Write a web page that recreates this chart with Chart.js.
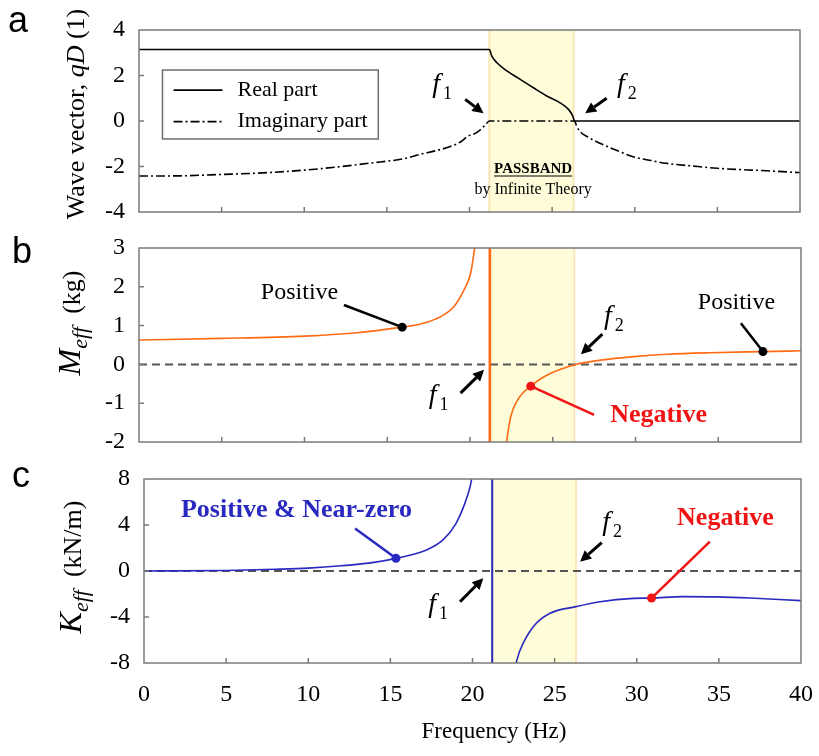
<!DOCTYPE html>
<html>
<head>
<meta charset="utf-8">
<script src="https://cdn.jsdelivr.net/npm/chart.js@4"></script>
<style>
  body { margin: 0; background: #fff; }
  #wrap { position: relative; width: 819px; height: 756px; }
  canvas { position: absolute; left: 0; }
</style>
</head>
<body>
<div id="wrap">
  <canvas id="panelA" width="819" height="225" style="top:0"></canvas>
  <canvas id="panelB" width="819" height="230" style="top:225px"></canvas>
  <canvas id="panelC" width="819" height="301" style="top:455px"></canvas>
</div>
<script>
// ---- data ----
const passband = [21.2, 26.3];
const xTicks = [0, 5, 10, 15, 20, 25, 30, 35, 40];

// (a) wave vector qD
const realFreq = [0, 21.2, 21.35, 21.66, 22.26, 23.07, 23.87, 24.68, 25.48, 25.99, 26.25, 26.35, 40];
const realPart = [3.14, 3.14, 2.85, 2.56, 2.2, 1.83, 1.46, 1.1, 0.8, 0.51, 0.22, 0, 0];
const imagFreq = [0, 2.5, 5, 7.5, 10, 12, 14, 16, 17, 18, 18.8, 19.5, 19.85, 20.45, 20.95, 21.2,
                  26.35, 26.5, 26.7, 27.2, 27.9, 29, 29.9, 31, 31.9, 33.5, 35, 38, 40];
const imagPart = [-2.42, -2.41, -2.35, -2.28, -2.16, -2.02, -1.85, -1.66, -1.47, -1.3, -1.13, -0.9, -0.69, -0.5, -0.18, 0,
                  0, -0.25, -0.47, -0.72, -0.98, -1.32, -1.57, -1.74, -1.86, -1.98, -2.08, -2.19, -2.27];

// (b) effective mass
const massFreqL = [0, 5, 10, 13, 15.9, 17.02, 18.23, 19.03, 19.64, 20.04, 20.28, 20.45];
const massL = [0.63, 0.67, 0.73, 0.81, 0.96, 1.04, 1.23, 1.49, 1.92, 2.35, 2.99, 3.5];
const massFreqR = [22.1, 22.46, 22.87, 23.67, 24.88, 26.4, 27.9, 29.9, 31.9, 34.5, 37.7, 40];
const massR = [-2.3, -1.35, -0.92, -0.56, -0.23, 0, 0.11, 0.2, 0.26, 0.3, 0.33, 0.35];
const massPole = 21.2;
const massPosFreq = [15.9, 37.7];
const massPosVal = [0.96, 0.33];
const massNegFreq = [23.67];
const massNegVal = [-0.56];

// (c) effective stiffness
const stiffFreqL = [0, 5, 8, 10, 12, 14, 15.34, 17.2, 18.2, 19.0, 19.54, 19.85, 19.95, 20.05];
const stiffL = [0, 0.05, 0.15, 0.25, 0.45, 0.75, 1.1, 1.83, 2.7, 4.15, 5.9, 7.3, 8, 8.8];
const stiffFreqR = [22.55, 22.9, 23.7, 24.72, 26.3, 27.76, 29.8, 30.9, 32.8, 34.9, 36.9, 40];
const stiffR = [-8.5, -6.87, -4.84, -3.68, -3.1, -2.67, -2.38, -2.35, -2.23, -2.25, -2.35, -2.58];
const stiffPole = 21.2;
const stiffPosFreq = [15.34];
const stiffPosVal = [1.1];
const stiffNegFreq = [30.9];
const stiffNegVal = [-2.35];

const ORANGE = '#FF6A14';
const BLUE = '#2A2AC0';
const RED = '#F01414';
const SERIF = '"Liberation Serif", "Times New Roman", serif';

const pts = (xs, ys) => xs.map((x, i) => ({ x: x, y: ys[i] }));

function curve(data, color, width, dash) {
  return {
    data: data, borderColor: color, borderWidth: width, borderDash: dash || [],
    pointRadius: 0, fill: false, cubicInterpolationMode: 'monotone'
  };
}
function dots(data, color) {
  return { data: data, showLine: false, pointRadius: 4.5, pointBackgroundColor: color, pointBorderWidth: 0 };
}

// ---- drawing helpers ----
function arrow(ctx, x1, y1, x2, y2) {
  const ang = Math.atan2(y2 - y1, x2 - x1), L = 11, W = 5.5;
  const bx = x2 - L * Math.cos(ang), by = y2 - L * Math.sin(ang);
  ctx.lineWidth = 3;
  ctx.beginPath(); ctx.moveTo(x1, y1); ctx.lineTo(bx, by); ctx.stroke();
  ctx.beginPath();
  ctx.moveTo(x2, y2);
  ctx.lineTo(bx - W * Math.sin(ang), by + W * Math.cos(ang));
  ctx.lineTo(bx + W * Math.sin(ang), by - W * Math.cos(ang));
  ctx.closePath(); ctx.fill();
}

function richTitle(ctx, parts, cx, cy) {
  ctx.save();
  ctx.translate(cx, cy);
  ctx.rotate(-Math.PI / 2);
  ctx.textBaseline = 'alphabetic';
  ctx.textAlign = 'left';
  ctx.fillStyle = '#000';
  let total = 0;
  parts.forEach(p => { ctx.font = p.font; p.w = ctx.measureText(p.t).width; total += p.w; });
  let x = -total / 2;
  parts.forEach(p => { ctx.font = p.font; ctx.fillText(p.t, x, p.dy || 0); x += p.w; });
  ctx.restore();
}

function panelPlugin(cfg) {
  return {
    id: 'panel_' + cfg.letter,
    beforeDatasetsDraw(chart) {
      const { ctx, chartArea: a, scales: { x } } = chart;
      const x1 = x.getPixelForValue(passband[0]), x2 = x.getPixelForValue(passband[1]);
      ctx.save();
      ctx.fillStyle = '#FFFDD9';
      ctx.fillRect(x1, a.top, x2 - x1, a.bottom - a.top);
      ctx.strokeStyle = '#F8E6B8';
      ctx.lineWidth = 2;
      ctx.beginPath();
      ctx.moveTo(x1, a.top); ctx.lineTo(x1, a.bottom);
      ctx.moveTo(x2, a.top); ctx.lineTo(x2, a.bottom);
      ctx.stroke();
      ctx.restore();
    },
    afterDatasetsDraw(chart) {
      const { ctx, chartArea: a, scales: { x, y } } = chart;
      const px = v => x.getPixelForValue(v), py = v => y.getPixelForValue(v);
      ctx.save();
      // frame and inward ticks
      ctx.strokeStyle = '#7A7A7A';
      ctx.lineWidth = 1.5;
      ctx.strokeRect(a.left, a.top, a.right - a.left, a.bottom - a.top);
      ctx.beginPath();
      xTicks.slice(1, -1).forEach(v => { ctx.moveTo(px(v), a.bottom); ctx.lineTo(px(v), a.bottom - 5); });
      y.ticks.slice(1, -1).forEach(t => { ctx.moveTo(a.left, py(t.value)); ctx.lineTo(a.left + 5, py(t.value)); });
      ctx.stroke();

      // annotations
      ctx.textBaseline = 'alphabetic';
      cfg.notes.forEach(n => {
        ctx.fillStyle = n.color || '#000';
        ctx.strokeStyle = n.color || '#000';
        if (n.type === 'text') {
          ctx.font = n.font;
          ctx.textAlign = 'center';
          ctx.textBaseline = 'middle';
          ctx.fillText(n.text, px(n.x), py(n.y));
          if (n.underline) {
            const w = ctx.measureText(n.text).width;
            ctx.lineWidth = 1.2;
            ctx.beginPath();
            ctx.moveTo(px(n.x) - w / 2, py(n.y) + 7);
            ctx.lineTo(px(n.x) + w / 2, py(n.y) + 7);
            ctx.stroke();
          }
          ctx.textBaseline = 'alphabetic';
        } else if (n.type === 'f') {
          ctx.textAlign = 'left';
          ctx.font = 'italic 28px ' + SERIF;
          ctx.fillText('f', px(n.x), py(n.y));
          const w = ctx.measureText('f').width;
          ctx.font = '18px ' + SERIF;
          ctx.fillText(n.sub, px(n.x) + w + 3, py(n.y) + 7);
        } else if (n.type === 'arrow') {
          arrow(ctx, px(n.from[0]), py(n.from[1]), px(n.to[0]), py(n.to[1]));
        } else if (n.type === 'line') {
          ctx.lineWidth = n.width || 2.5;
          ctx.beginPath();
          ctx.moveTo(px(n.from[0]), py(n.from[1]));
          ctx.lineTo(px(n.to[0]), py(n.to[1]));
          ctx.stroke();
        } else if (n.type === 'legend') {
          const l = px(n.box[0]), t = py(n.box[1]), r = px(n.box[2]), b = py(n.box[3]);
          ctx.fillStyle = '#fff';
          ctx.fillRect(l, t, r - l, b - t);
          ctx.strokeStyle = '#6E6E6E';
          ctx.lineWidth = 1.5;
          ctx.strokeRect(l, t, r - l, b - t);
          ctx.strokeStyle = '#000';
          ctx.fillStyle = '#000';
          ctx.font = '22px ' + SERIF;
          ctx.textAlign = 'left';
          ctx.textBaseline = 'middle';
          n.items.forEach(it => {
            ctx.lineWidth = 1.8;
            ctx.setLineDash(it.dash);
            ctx.beginPath();
            ctx.moveTo(px(n.sample[0]), py(it.y));
            ctx.lineTo(px(n.sample[1]), py(it.y));
            ctx.stroke();
            ctx.setLineDash([]);
            ctx.fillText(it.label, px(n.textX), py(it.y));
          });
          ctx.textBaseline = 'alphabetic';
        }
      });

      // panel letter, y-axis title, optional x-axis title
      ctx.fillStyle = '#000';
      ctx.textAlign = 'left';
      ctx.font = '36px "Liberation Sans", Arial, sans-serif';
      ctx.fillText(cfg.letter, cfg.letterPos[0], cfg.letterPos[1]);
      richTitle(ctx, cfg.title, cfg.titlePos[0], cfg.titlePos[1]);
      if (cfg.xTitle) {
        ctx.font = '23px ' + SERIF;
        ctx.textAlign = 'center';
        ctx.textBaseline = 'middle';
        ctx.fillText(cfg.xTitle.text, cfg.xTitle.pos[0], cfg.xTitle.pos[1]);
      }
      ctx.restore();
    }
  };
}

function makeChart(id, cfg) {
  const tickFont = { family: SERIF, size: 24 };
  const xScale = { type: 'linear', min: 0, max: 40, display: false };
  if (cfg.showX) {
    Object.assign(xScale, {
      display: true,
      ticks: { stepSize: 5, font: tickFont, color: '#000', padding: 17, maxRotation: 0 },
      grid: { display: false, drawTicks: false },
      border: { display: false },
      afterFit: s => { s.height = cfg.xHeight; s.paddingLeft = 0; s.paddingRight = 0; }
    });
  }
  return new Chart(document.getElementById(id), {
    type: 'line',
    data: { datasets: cfg.datasets },
    options: {
      responsive: false,
      animation: false,
      events: [],
      devicePixelRatio: 1,
      layout: { padding: cfg.padding },
      plugins: { legend: { display: false }, tooltip: { enabled: false } },
      scales: {
        x: xScale,
        y: {
          type: 'linear', min: cfg.yMin, max: cfg.yMax,
          ticks: { stepSize: cfg.yStep, font: tickFont, color: '#000', padding: 14 },
          grid: { display: false, drawTicks: false },
          border: { display: false },
          afterFit: s => { s.width = cfg.axisWidth; s.paddingTop = 0; s.paddingBottom = 0; }
        }
      }
    },
    plugins: [panelPlugin(cfg)]
  });
}

const zeroLine = () => curve([{ x: 0, y: 0 }, { x: 40, y: 0 }], '#555', 2, [8, 5]);

// ---- panel a ----
makeChart('panelA', {
  letter: 'a', letterPos: [8, 32], titlePos: [84, 114],
  title: [
    { t: 'Wave vector, ', font: '26px ' + SERIF },
    { t: 'qD', font: 'italic 26px ' + SERIF },
    { t: ' (1)', font: '26px ' + SERIF }
  ],
  padding: { top: 30, bottom: 13, left: 0, right: 19 }, axisWidth: 139,
  yMin: -4, yMax: 4, yStep: 2,
  datasets: [
    curve(pts(realFreq, realPart), '#000', 1.6),
    curve(pts(imagFreq, imagPart), '#000', 1.6, [9, 3, 2, 3])
  ],
  notes: [
    { type: 'legend', box: [1.42, 2.24, 14.48, -0.79], sample: [2.09, 5.05], textX: 5.96,
      items: [{ label: 'Real part', y: 1.36, dash: [] }, { label: 'Imaginary part', y: -0.03, dash: [9, 3, 2, 3] }] },
    { type: 'f', x: 17.75, y: 1.27, sub: '1' },
    { type: 'arrow', from: [19.74, 0.95], to: [20.85, 0.34] },
    { type: 'f', x: 28.93, y: 1.27, sub: '2' },
    { type: 'arrow', from: [28.3, 1.0], to: [27.0, 0.34] },
    { type: 'text', x: 23.85, y: -2.11, text: 'PASSBAND', font: 'bold 15px ' + SERIF, underline: true },
    { type: 'text', x: 23.85, y: -3.03, text: 'by Infinite Theory', font: '16px ' + SERIF }
  ]
});

// ---- panel b ----
makeChart('panelB', {
  letter: 'b', letterPos: [12, 38], titlePos: [80, 98],
  title: [
    { t: 'M', font: 'italic 32px ' + SERIF },
    { t: 'eff', font: 'italic 22px ' + SERIF, dy: 7 },
    { t: '  (kg)', font: '26px ' + SERIF }
  ],
  padding: { top: 23, bottom: 13, left: 0, right: 18 }, axisWidth: 139,
  yMin: -2, yMax: 3, yStep: 1,
  datasets: [
    dots(pts(massPosFreq, massPosVal), '#000'),
    dots(pts(massNegFreq, massNegVal), RED),
    curve(pts(massFreqL, massL), ORANGE, 1.6),
    curve(pts(massFreqR, massR), ORANGE, 1.6),
    curve([{ x: massPole, y: -2 }, { x: massPole, y: 3 }], ORANGE, 2.6),
    zeroLine()
  ],
  notes: [
    { type: 'text', x: 9.7, y: 1.84, text: 'Positive', font: '24px ' + SERIF },
    { type: 'line', from: [12.38, 1.53], to: [15.9, 0.96], width: 2.5 },
    { type: 'f', x: 28.1, y: 1.04, sub: '2' },
    { type: 'arrow', from: [28.0, 0.78], to: [26.7, 0.26] },
    { type: 'f', x: 17.5, y: -1.0, sub: '1' },
    { type: 'arrow', from: [19.43, -0.74], to: [20.85, -0.14] },
    { type: 'line', from: [23.67, -0.56], to: [27.5, -1.3], width: 2.5, color: RED },
    { type: 'text', x: 31.4, y: -1.3, text: 'Negative', font: 'bold 26px ' + SERIF, color: RED },
    { type: 'text', x: 36.1, y: 1.6, text: 'Positive', font: '24px ' + SERIF },
    { type: 'line', from: [36.37, 1.06], to: [37.7, 0.33], width: 2.5 }
  ]
});

// ---- panel c ----
makeChart('panelC', {
  letter: 'c', letterPos: [12, 32], titlePos: [81, 112], showX: true, xHeight: 93,
  xTitle: { text: 'Frequency (Hz)', pos: [494, 277] },
  title: [
    { t: 'K', font: 'italic 32px ' + SERIF },
    { t: 'eff', font: 'italic 22px ' + SERIF, dy: 7 },
    { t: '  (kN/m)', font: '26px ' + SERIF }
  ],
  padding: { top: 24, bottom: 0, left: 0, right: 18 }, axisWidth: 144,
  yMin: -8, yMax: 8, yStep: 4,
  datasets: [
    dots(pts(stiffPosFreq, stiffPosVal), BLUE),
    dots(pts(stiffNegFreq, stiffNegVal), RED),
    curve(pts(stiffFreqL, stiffL), BLUE, 1.6),
    curve(pts(stiffFreqR, stiffR), BLUE, 1.6),
    curve([{ x: stiffPole, y: -8 }, { x: stiffPole, y: 8 }], BLUE, 2),
    zeroLine()
  ],
  notes: [
    { type: 'text', x: 9.28, y: 5.3, text: 'Positive & Near-zero', font: 'bold 26px ' + SERIF, color: BLUE },
    { type: 'line', from: [12.85, 3.7], to: [15.34, 1.1], width: 2.5, color: BLUE },
    { type: 'f', x: 17.3, y: -3.6, sub: '1' },
    { type: 'arrow', from: [19.24, -2.67], to: [20.66, -0.63] },
    { type: 'f', x: 27.9, y: 3.57, sub: '2' },
    { type: 'arrow', from: [27.87, 2.46], to: [26.55, 0.81] },
    { type: 'text', x: 35.4, y: 4.6, text: 'Negative', font: 'bold 26px ' + SERIF, color: RED },
    { type: 'line', from: [34.45, 2.55], to: [30.9, -2.35], width: 2.5, color: RED }
  ]
});
</script>
</body>
</html>
